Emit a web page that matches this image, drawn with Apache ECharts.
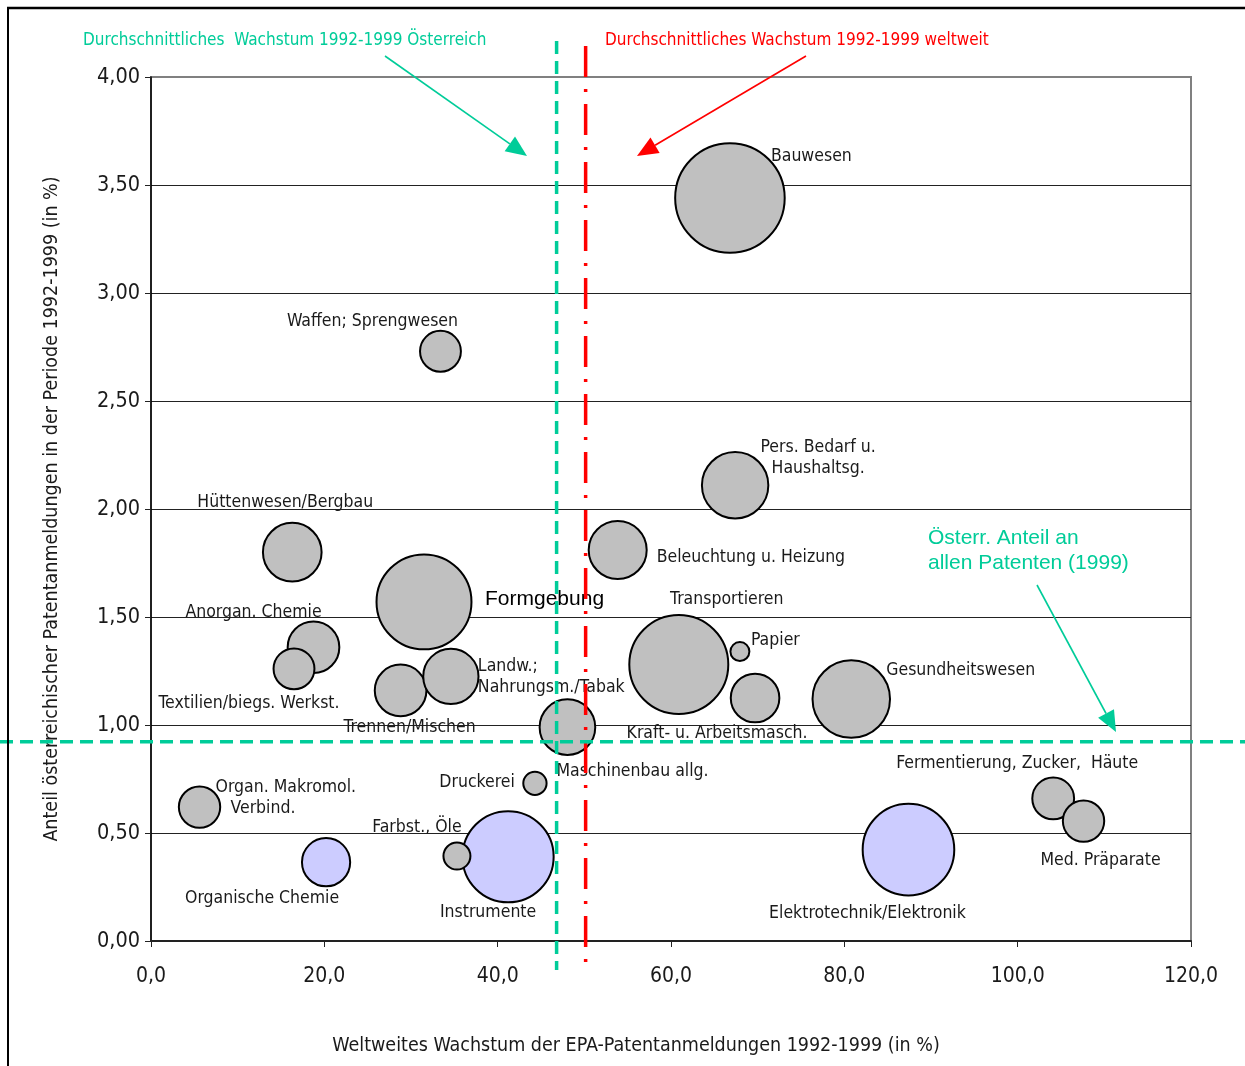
<!DOCTYPE html>
<html>
<head>
<meta charset="utf-8">
<script src="https://cdn.jsdelivr.net/npm/echarts@6/dist/echarts.min.js"></script>
<style>
html,body{margin:0;padding:0;background:#fff;}
#chart{width:1245px;height:1066px;}
</style>
</head>
<body>
<div id="chart"></div>
<script>
// ---------- data ----------
const categories = [
  'Bauwesen', 'Waffen; Sprengwesen', 'Pers. Bedarf u.\nHaushaltsg.', 'Hüttenwesen/Bergbau',
  'Beleuchtung u. Heizung', 'Formgebung', 'Anorgan. Chemie', 'Textilien/biegs. Werkst.',
  'Trennen/Mischen', 'Landw.;\nNahrungsm./Tabak', 'Transportieren', 'Papier',
  'Kraft- u. Arbeitsmasch.', 'Gesundheitswesen', 'Maschinenbau allg.', 'Druckerei',
  'Organ. Makromol.\n   Verbind.', 'Fermentierung, Zucker,  Häute', 'Med. Präparate'
];
const growthWorld = [66.8, 33.4, 67.4, 16.3, 53.85, 31.5, 18.75, 16.5, 28.8, 34.6, 60.9, 67.95, 69.7, 80.8, 48.05, 44.3, 5.6, 104.1, 107.6];
const shareAT     = [3.44, 2.73, 2.11, 1.80, 1.81, 1.57, 1.36, 1.26, 1.16, 1.225, 1.28, 1.34, 1.125, 1.12, 0.99, 0.73, 0.62, 0.66, 0.555];
const bubbleSize  = [311, 46, 117, 92, 90, 235, 72, 46, 72, 82, 255, 11, 64, 158, 83, 16, 47, 48, 47];

const blueCategories = ['Organische Chemie', 'Instrumente', 'Elektrotechnik/Elektronik'];
const blueGrowth = [20.2, 41.2, 87.4];
const blueShare  = [0.365, 0.39, 0.423];
const blueSize   = [63, 217, 219];
// Farbst., Öle is grey, drawn above Instrumente
const extraGreyCategories = ['Farbst., Öle'];
const extraGreyGrowth = [35.3];
const extraGreyShare = [0.393];
const extraGreySize = [21];

const avgGrowthAustria = 46.8;
const avgGrowthWorld = 50.15;
const avgShareAustria = 0.923;

const xTicks = [0, 20, 40, 60, 80, 100, 120];
const yTicks = [0, 0.5, 1, 1.5, 2, 2.5, 3, 3.5, 4];

// ---------- label layout (style, not data) ----------
const labelLayout = {
  'Bauwesen': [41, -42, 'left'],
  'Waffen; Sprengwesen': [-68, -30, 'center'],
  'Pers. Bedarf u.\nHaushaltsg.': [83, -27, 'center'],
  'Hüttenwesen/Bergbau': [-7, -50, 'center'],
  'Beleuchtung u. Heizung': [39, 7, 'left'],
  'Formgebung': [61, -3, 'left'],
  'Anorgan. Chemie': [-60, -35, 'center'],
  'Textilien/biegs. Werkst.': [-45, 35, 'center'],
  'Trennen/Mischen': [9, 37, 'center'],
  'Landw.;\nNahrungsm./Tabak': [27, 1, 'left'],
  'Transportieren': [48, -65, 'center'],
  'Papier': [11, -11, 'left'],
  'Kraft- u. Arbeitsmasch.': [-38, 35, 'center'],
  'Gesundheitswesen': [35, -29, 'left'],
  'Maschinenbau allg.': [-11, 44, 'left'],
  'Druckerei': [-20, -1, 'right'],
  'Organ. Makromol.\n   Verbind.': [16, -9, 'left'],
  'Fermentierung, Zucker,  Häute': [-36, -35, 'center'],
  'Med. Präparate': [17, 39, 'center'],
  'Organische Chemie': [-64, 36, 'center'],
  'Instrumente': [-20, 56, 'center'],
  'Elektrotechnik/Elektronik': [-41, 64, 'center'],
  'Farbst., Öle': [-40, -29, 'center']
};

const NARROW = "'DejaVu Sans Condensed', 'Liberation Sans Narrow', sans-serif";
const REGULAR = "'Liberation Sans', Arial, sans-serif";
const GREEN = '#00cc99';
const RED = '#ff0000';

function makeItems(names, xs, ys, ss) {
  return xs.map((x, i) => {
    const n = names[i];
    const L = labelLayout[n] || [0, 0, 'center'];
    const item = {
      name: n,
      value: [x, ys[i], ss[i]],
      label: { offset: [L[0], L[1]], align: L[2] }
    };
    if (n === 'Formgebung') {
      item.label.fontFamily = REGULAR;
      item.label.fontSize = 21;
      item.label.color = '#000';
    }
    return item;
  });
}

const greyItems = makeItems(categories, growthWorld, shareAT, bubbleSize)
  .concat(makeItems(extraGreyCategories, extraGreyGrowth, extraGreyShare, extraGreySize));
const blueItems = makeItems(blueCategories, blueGrowth, blueShare, blueSize);

const sizeFn = v => 2 * Math.sqrt(v[2] * 10) - 2;

const labelBase = {
  show: true,
  position: 'inside',
  formatter: p => p.name,
  fontFamily: NARROW,
  fontSize: 17.5,
  lineHeight: 21,
  color: '#1a1a1a'
};

const chart = echarts.init(document.getElementById('chart'));

const gridColors = yTicks.map((t, i) => i === yTicks.length - 1 ? '#808080' : '#222');

chart.setOption({
  animation: false,
  backgroundColor: '#fff',
  grid: { left: 151, right: 54, top: 77, bottom: 125, show: true, borderColor: '#808080', borderWidth: 2, backgroundColor: 'transparent' },
  xAxis: {
    type: 'value', min: xTicks[0], max: xTicks[xTicks.length - 1], interval: 20,
    name: 'Weltweites Wachstum der EPA-Patentanmeldungen 1992-1999 (in %)',
    nameLocation: 'middle', nameGap: 95,
    nameTextStyle: { fontFamily: NARROW, fontSize: 19.5, color: '#1a1a1a', padding: [0, 70, 0, 0] },
    axisLine: { show: true, lineStyle: { color: '#222', width: 2 } },
    axisTick: { show: true, length: 6, lineStyle: { color: '#222', width: 1 } },
    axisLabel: { formatter: v => v.toFixed(1).replace('.', ','), fontFamily: NARROW, fontSize: 21, color: '#1a1a1a', margin: 25 },
    splitLine: { show: false }
  },
  yAxis: {
    type: 'value', min: yTicks[0], max: yTicks[yTicks.length - 1], interval: 0.5,
    name: 'Anteil österreichischer Patentanmeldungen in der Periode 1992-1999 (in %)',
    nameLocation: 'middle', nameGap: 89,
    nameTextStyle: { fontFamily: NARROW, fontSize: 19.5, color: '#1a1a1a' },
    axisLine: { show: true, lineStyle: { color: '#000', width: 1.5 } },
    axisTick: { show: true, length: 6, lineStyle: { color: '#222', width: 1 } },
    axisLabel: { formatter: v => v.toFixed(2).replace('.', ','), fontFamily: NARROW, fontSize: 21.5, color: '#1a1a1a', margin: 11 },
    splitLine: { show: true, lineStyle: { color: gridColors, width: 1 } }
  },
  series: [
    {
      type: 'scatter', name: 'blue', data: blueItems, symbol: 'circle', symbolSize: sizeFn,
      itemStyle: { color: '#ccccff', borderColor: '#000', borderWidth: 2, opacity: 1 },
      label: labelBase, emphasis: { disabled: true }, z: 3
    },
    {
      type: 'scatter', name: 'grey', data: greyItems, symbol: 'circle', symbolSize: sizeFn,
      itemStyle: { color: '#c0c0c0', borderColor: '#000', borderWidth: 2, opacity: 1 },
      label: labelBase, emphasis: { disabled: true }, z: 4
    }
  ]
});

// ---------- annotations ----------
function arrow(sx, sy, tx, ty, color) {
  const dx = tx - sx, dy = ty - sy, len = Math.hypot(dx, dy);
  const ux = dx / len, uy = dy / len, nx = -uy, ny = ux;
  const hl = 21, hw = 9;
  const bx = tx - ux * hl, by = ty - uy * hl;
  return [
    { type: 'line', shape: { x1: sx, y1: sy, x2: bx, y2: by }, style: { stroke: color, lineWidth: 1.6 }, z: 20 },
    { type: 'polygon', shape: { points: [[tx, ty], [bx + nx * hw, by + ny * hw], [bx - nx * hw, by - ny * hw]] }, style: { fill: color }, z: 20 }
  ];
}

const xg = chart.convertToPixel({ xAxisIndex: 0 }, avgGrowthAustria);
const xr = chart.convertToPixel({ xAxisIndex: 0 }, avgGrowthWorld);
const yg = chart.convertToPixel({ yAxisIndex: 0 }, avgShareAustria);

const graphics = [
  // outer frame
  { type: 'line', shape: { x1: 7, y1: 8, x2: 1245, y2: 8 }, style: { stroke: '#000', lineWidth: 2.5 }, z: 20 },
  { type: 'line', shape: { x1: 8, y1: 7, x2: 8, y2: 1066 }, style: { stroke: '#000', lineWidth: 2 }, z: 20 },
  // reference lines
  { type: 'line', shape: { x1: xg, y1: 41, x2: xg, y2: 970 }, style: { stroke: GREEN, lineWidth: 3.5, lineDash: [13, 7] }, z: 15 },
  { type: 'line', shape: { x1: xr, y1: 46, x2: xr, y2: 970 }, style: { stroke: RED, lineWidth: 3.5, lineDash: [31, 12, 3, 12], lineDashOffset: 0 }, z: 15 },
  { type: 'line', shape: { x1: 0, y1: yg, x2: 1245, y2: yg }, style: { stroke: GREEN, lineWidth: 3.5, lineDash: [13, 7] }, z: 15 },
  // annotation texts
  { type: 'text', left: 83, top: 32, style: { text: 'Durchschnittliches  Wachstum 1992-1999 Österreich', fill: GREEN, font: "17px " + NARROW }, z: 20 },
  { type: 'text', left: 605, top: 32, style: { text: 'Durchschnittliches Wachstum 1992-1999 weltweit', fill: RED, font: "17px " + NARROW }, z: 20 },
  { type: 'text', left: 928, top: 526, style: { text: 'Österr. Anteil an\nallen Patenten (1999)', fill: GREEN, font: "21px " + REGULAR, lineHeight: 25 }, z: 20 }
].concat(
  arrow(385, 56, 527, 156, GREEN),
  arrow(806, 56, 637, 156, RED),
  arrow(1037, 585, 1116, 732, GREEN)
);

chart.setOption({ graphic: graphics });
</script>
</body>
</html>
